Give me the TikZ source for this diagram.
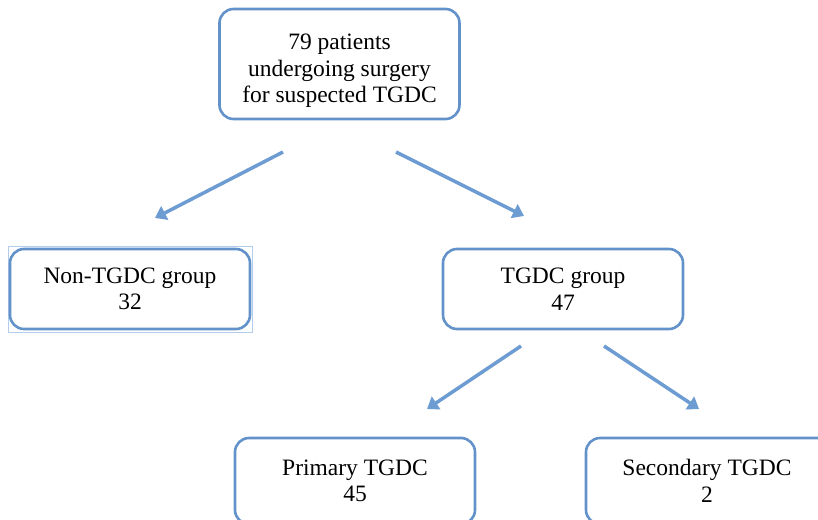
\documentclass[tikz,border=0pt]{standalone}
\usepackage{fontspec}
\setmainfont{Liberation Serif}
\usetikzlibrary{arrows.meta,positioning}
\definecolor{boxblue}{RGB}{98,146,201}
\definecolor{arrowblue}{RGB}{108,156,210}
\definecolor{selblue}{RGB}{178,204,236}

\begin{document}
\begin{tikzpicture}[x=1pt,y=-1pt]
    \tikzstyle{block} = [rectangle, draw=boxblue, line width=2.6pt, rounded corners=14pt,
               fill=white, minimum width=240pt, minimum height=80pt,
               align=center, font=\fontsize{23.5}{26.5}\selectfont]
    \tikzstyle{line} = [draw=arrowblue, line width=3.5pt, -{Triangle[length=11pt,width=15pt]}]

    \useasboundingbox (0,0) rectangle (818,519);
    \clip (0,0) rectangle (818,519);

    % boxes
    \node [block, minimum height=110pt] (patients) at (339.5,64)
      {\rule{0pt}{30pt}79 patients\\undergoing surgery\\for suspected TGDC};
    \draw [selblue, line width=0.8pt] (8,246) rectangle (252,332);
    \node [block] (nontgdc) at (130,289) {Non-TGDC group\\32};
    \node [block] (tgdc) at (563,289) {TGDC group\\47};
    \node [block, minimum height=86pt] (primary) at (355,481) {Primary TGDC\\45};
    \node [block, minimum width=254pt, minimum height=86pt] (secondary) at (713,481)
      {\hspace*{-12pt}Secondary TGDC\\\hspace*{-12pt}2};

    % arrow ends
    \coordinate (p-left) at (283,152);
    \coordinate (p-right) at (396,152);
    \coordinate (n-in) at (155,218);
    \coordinate (t-in) at (524,216);
    \coordinate (t-left) at (521,346);
    \coordinate (t-right) at (604,346);
    \coordinate (pr-in) at (427,409);
    \coordinate (s-in) at (699,409);

    \draw [line] (p-left) -- (n-in);
    \draw [line] (p-right) -- (t-in);
    \draw [line] (t-left) -- (pr-in);
    \draw [line] (t-right) -- (s-in);

  \end{tikzpicture}
\end{document}
